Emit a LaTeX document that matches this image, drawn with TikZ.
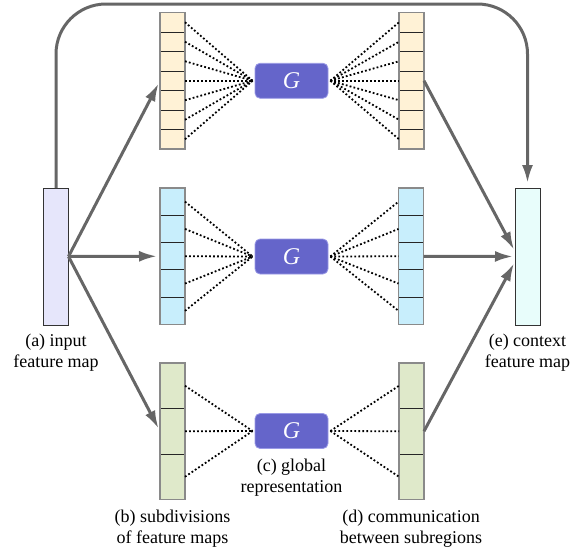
\documentclass[tikz,border=0pt]{standalone}
\usepackage{fontspec}
\setmainfont{LiberationSerif}[
  Extension=.ttf,
  UprightFont=*-Regular,
  ItalicFont=*-Italic,
  BoldFont=*-Bold,
  BoldItalicFont=*-BoldItalic]
\usetikzlibrary{arrows.meta}
\definecolor{topfill}{HTML}{FFF2D6}
\definecolor{midfill}{HTML}{C8EEFC}
\definecolor{botfill}{HTML}{DFE9CA}
\definecolor{infill}{HTML}{E6E6FB}
\definecolor{ctxfill}{HTML}{E8FDFB}
\definecolor{gfill}{HTML}{6565CA}
\definecolor{gedge}{HTML}{9A9AE6}
\definecolor{flow}{HTML}{666666}
\definecolor{framegray}{HTML}{8A8A8A}
\begin{document}
\begin{tikzpicture}[x=1pt,y=-1pt,
  cell/.style={draw=black!85, line width=0.9pt, minimum width=25pt, inner sep=0pt, outer sep=0pt},
  colframe/.style={draw=framegray, line width=1.3pt, minimum width=25pt, inner sep=0pt, outer sep=0pt},
  mapbox/.style={draw=black!80, line width=1pt, minimum width=25pt, minimum height=137pt, inner sep=0pt, outer sep=0pt},
  gbox/.style={fill=gfill, draw=gedge, line width=0.8pt, rounded corners=5pt, minimum width=73pt, minimum height=35pt, inner sep=0pt, text=white, font=\fontsize{24}{24}\selectfont\itshape},
  link/.style={line width=1.8pt, dash pattern=on 1.8pt off 2.2pt, black},
  flowline/.style={draw=flow, line width=3pt, -{Latex[length=18pt,width=11pt]}},
  caption/.style={align=center, font=\fontsize{18}{21}\selectfont, inner sep=0pt}
]
\useasboundingbox (0,0) rectangle (573,552);

% input and context feature maps
\node[mapbox, fill=infill] (inp) at (56,256.5) {};
\node[mapbox, fill=ctxfill] (ctx) at (527.5,256.5) {};

% subdivided columns: name / centre x / top y / number of cells / fill
\foreach \nm/\cx/\ty/\n/\col in {tl/172.5/12.5/7/topfill, tr/411.5/12.5/7/topfill,
                                 ml/172.5/188/5/midfill, mr/411/188/5/midfill,
                                 bl/172.5/363/3/botfill, br/411.5/363/3/botfill} {
  \pgfmathsetmacro\h{136.5/\n}
  \foreach \i in {1,...,\n}
    \node[cell, fill=\col, minimum height=\h pt] (\nm-\i) at (\cx, \ty+\h*\i-\h/2) {};
  \node[colframe, minimum height=136.5pt] (\nm) at (\cx, \ty+68.25) {};
}

% global representation blocks
\node[gbox] (gt) at (291.5,80.75) {G};
\node[gbox] (gm) at (291.5,256.5) {G};
\node[gbox] (gb) at (291.5,431) {G};

% dotted links between subregions and G
\foreach \i in {1,...,7} {
  \draw[link] (tl-\i.east) -- ([xshift=-2pt]gt.west);
  \draw[link] ([xshift=2pt]gt.east) -- (tr-\i.west);
}
\foreach \i in {1,...,5} {
  \draw[link] (ml-\i.east) -- ([xshift=-2pt]gm.west);
  \draw[link] ([xshift=2pt]gm.east) -- (mr-\i.west);
}
\foreach \i in {1,...,3} {
  \draw[link] (bl-\i.east) -- ([xshift=-2pt]gb.west);
  \draw[link] ([xshift=2pt]gb.east) -- (br-\i.west);
}

% data flow
\draw[flowline, shorten >=3pt] (inp.east) -- (tl.west);
\draw[flowline, shorten >=3pt] (inp.east) -- (ml.west);
\draw[flowline, shorten >=3pt] (inp.east) -- (bl.west);
\draw[flowline, shorten >=2pt] (tr.east) -- ([yshift=5pt]ctx.west);
\draw[flowline, shorten >=2pt] (mr.east) -- (ctx.west);
\draw[flowline, shorten >=2pt] (br.east) -- ([yshift=-5pt]ctx.west);
\coordinate (ceil) at (0,4);
\draw[flowline, rounded corners=50pt, shorten >=5pt]
  (inp.north) -- (inp.north |- ceil) -- (ctx.north |- ceil) -- (ctx.north);

% captions
\node[caption] (capa) at (56,352.5) {(a) input\\feature map};
\node[caption] (cape) at (527.5,352.5) {(e) context\\feature map};
\node[caption] (capc) at (291.5,477.5) {(c) global\\representation};
\node[caption] (capb) at (172.5,529) {(b) subdivisions\\of feature maps};
\node[caption] (capd) at (411,529) {(d) communication\\between subregions};
\end{tikzpicture}
\end{document}
